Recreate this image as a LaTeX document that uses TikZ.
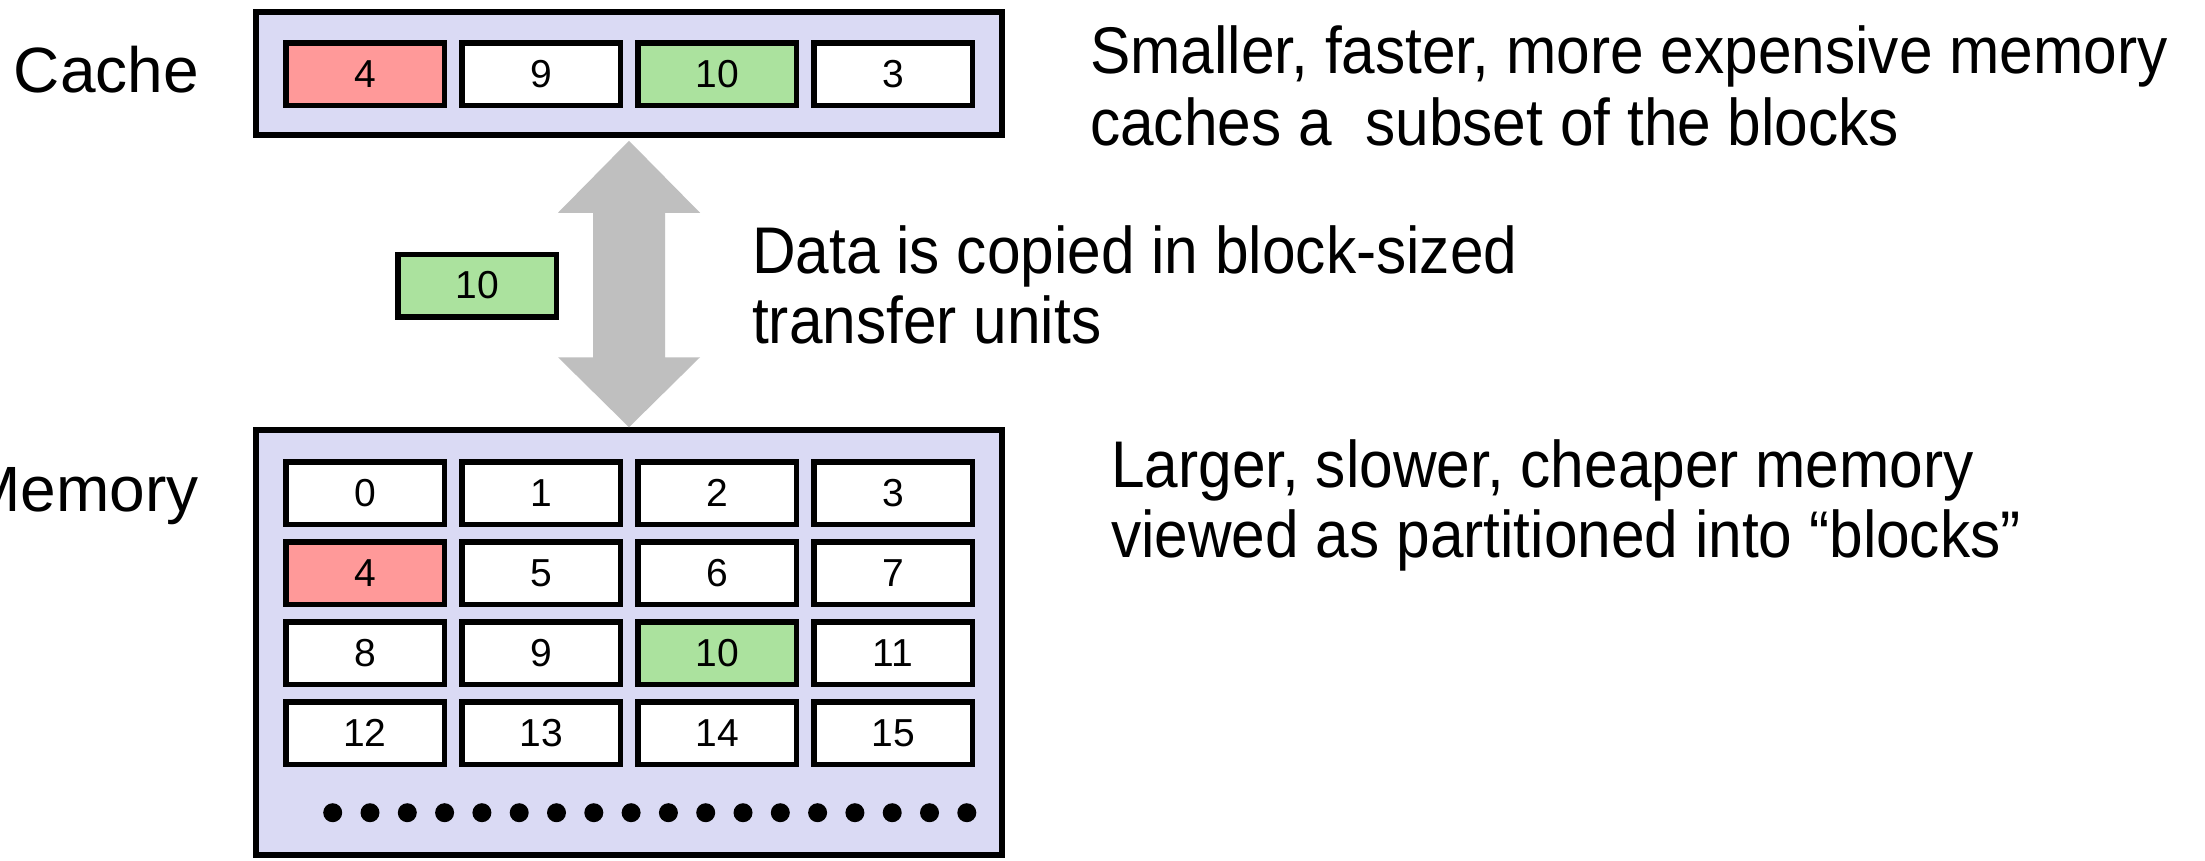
\documentclass[tikz,border=0pt]{standalone}
\usepackage{fontspec}
\setmainfont{Liberation Sans}
\newfontfamily\descfont[FakeStretch=0.915]{Liberation Sans}
\usetikzlibrary{calc}
\definecolor{boxfill}{RGB}{218,218,244}
\definecolor{redcell}{RGB}{255,153,153}
\definecolor{greencell}{RGB}{171,226,158}
\definecolor{arrowgray}{RGB}{191,191,191}
\begin{document}
\begin{tikzpicture}[x=1pt,y=-1pt,
  container/.style={draw=black, line width=5.5pt, fill=boxfill, inner sep=0pt},
  cell/.style={draw=black, line width=5.5pt, fill=white, minimum width=158.5pt,
    minimum height=62.5pt, inner sep=0pt, font=\fontsize{39}{39}\selectfont},
  redc/.style={cell, fill=redcell},
  greenc/.style={cell, fill=greencell},
  label/.style={anchor=base east, inner sep=0pt, font=\fontsize{64}{64}\selectfont},
  desc/.style={anchor=base west, inner sep=0pt, font=\descfont\fontsize{66}{66}\selectfont}]
\useasboundingbox (0,0) rectangle (2205,860);
\fill[white] (0,0) rectangle (2205,860);

% containers
\node[container, minimum width=746pt, minimum height=123pt] (cache) at (629,73.5) {};
\node[container, minimum width=746pt, minimum height=425pt] (mem) at (629,642.5) {};

% labels
\node[label] (lcache) at (199,92) {Cache};
\node[label] (lmem) at (199,511) {Memory};

% cache cells
\node[redc] (c1) at (365,74) {4};
\node[cell] (c2) at (541,74) {9};
\node[greenc] (c3) at (717,74) {10};
\node[cell] (c4) at (893,74) {3};

% memory cells
\node[cell] (m0) at (365,493) {0};
\node[cell] (m1) at (541,493) {1};
\node[cell] (m2) at (717,493) {2};
\node[cell] (m3) at (893,493) {3};
\node[redc] (m4) at (365,573) {4};
\node[cell] (m5) at (541,573) {5};
\node[cell] (m6) at (717,573) {6};
\node[cell] (m7) at (893,573) {7};
\node[cell] (m8) at (365,653) {8};
\node[cell] (m9) at (541,653) {9};
\node[greenc] (m10) at (717,653) {10};
\node[cell] (m11) at (893,653) {11};
\node[cell] (m12) at (365,733) {12};
\node[cell] (m13) at (541,733) {13};
\node[cell] (m14) at (717,733) {14};
\node[cell] (m15) at (893,733) {15};

% dots
\foreach \i in {0,...,17} {
  \fill[black] ({332.7+37.3*\i},812.7) circle [radius=9.5];
}

% transfer block
\node[greenc] (t) at (477,285.5) {10};

% double arrow
\coordinate (atop) at ($(cache.south)+(0,3)$);
\coordinate (abot) at (mem.north);
\fill[arrowgray] (atop) -- ++(71,72) -- ++(-35,0) -- ($(abot)+(36,-70)$) -- ++(35,0)
  -- (abot) -- ++(-71,-70) -- ++(35,0) -- ($(atop)+(-36,72)$) -- ++(-35,0) -- cycle;

% descriptions
\node[desc] (s1) at (1090,73) {Smaller, faster, more expensive memory};
\node[desc] (s2) at (1090,145) {caches a\ \ subset of the blocks};
\node[desc] (d1) at (752,273) {Data is copied in block-sized};
\node[desc] (d2) at (752,343) {transfer units};
\node[desc] (l1) at (1111,487) {Larger, slower, cheaper memory};
\node[desc] (l2) at (1111,557) {viewed as partitioned into “blocks”};
\end{tikzpicture}
\end{document}
